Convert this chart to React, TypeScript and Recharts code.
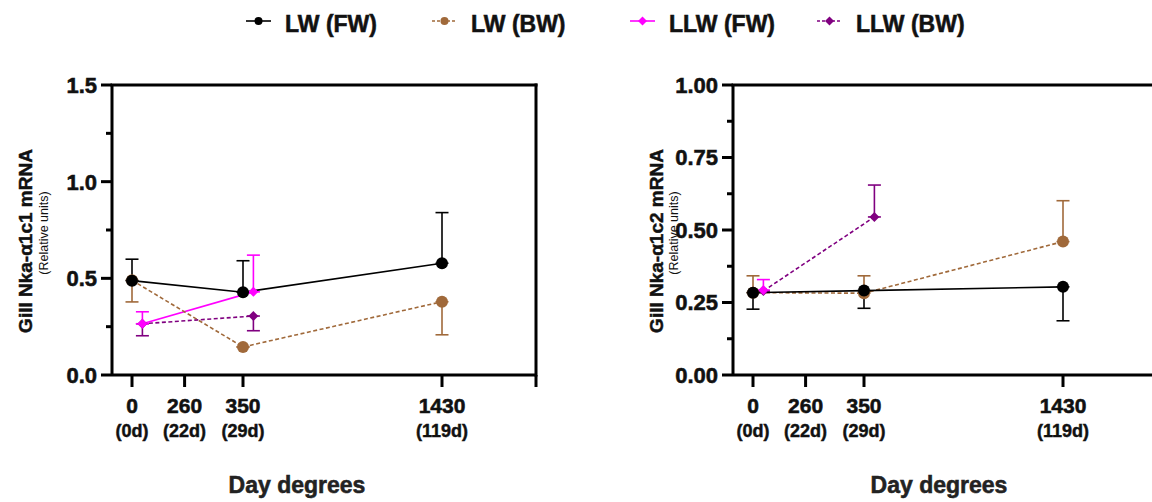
import React from "react";
import { LineChart, Line, XAxis, YAxis, ErrorBar, ReferenceLine, Label } from "recharts";

const FONT = "'Liberation Sans', Arial, Helvetica, sans-serif";
// GraphPad-style heavy bold text
const HEAVY = { fontWeight: "bold" as const, fontFamily: FONT, fill: "#111", stroke: "#111", strokeWidth: 0.55 };

// sampling points (day degrees) and fish age at each one
const DAY_DEGREES = [0, 260, 350, 1430];
const DAY_AGES = ["(0d)", "(22d)", "(29d)", "(119d)"];
// segmented x axis: slot of each sampling point along the axis
const AXIS_SLOTS = [1, 3.63, 6.55, 16.5];
const AXIS_END = 21.2;
const LLW_NUDGE = 0.52;

// Nka-α1c1
const C1_LW_FW_DAYS = [0, 350, 1430];
const C1_LW_FW_MEAN = [0.488, 0.428, 0.578];
const C1_LW_FW_LOW = [0, 0, 0];
const C1_LW_FW_HIGH = [0.111, 0.163, 0.262];

const C1_LW_BW_DAYS = [0, 350, 1430];
const C1_LW_BW_MEAN = [0.49, 0.145, 0.379];
const C1_LW_BW_LOW = [0.112, 0, 0.171];
const C1_LW_BW_HIGH = [0, 0, 0];

const C1_LLW_FW_DAYS = [0, 350];
const C1_LLW_FW_MEAN = [0.265, 0.43];
const C1_LLW_FW_LOW = [0, 0];
const C1_LLW_FW_HIGH = [0.062, 0.19];

const C1_LLW_BW_DAYS = [0, 350];
const C1_LLW_BW_MEAN = [0.265, 0.305];
const C1_LLW_BW_LOW = [0.062, 0.076];
const C1_LLW_BW_HIGH = [0, 0];

// Nka-α1c2
const C2_LW_FW_DAYS = [0, 350, 1430];
const C2_LW_FW_MEAN = [0.284, 0.291, 0.304];
const C2_LW_FW_LOW = [0.057, 0.061, 0.117];
const C2_LW_FW_HIGH = [0, 0, 0];

const C2_LW_BW_DAYS = [0, 350, 1430];
const C2_LW_BW_MEAN = [0.284, 0.282, 0.46];
const C2_LW_BW_LOW = [0, 0, 0];
const C2_LW_BW_HIGH = [0.058, 0.06, 0.141];

const C2_LLW_FW_DAYS = [0];
const C2_LLW_FW_MEAN = [0.293];
const C2_LLW_FW_LOW = [0];
const C2_LLW_FW_HIGH = [0.036];

const C2_LLW_BW_DAYS = [0, 350];
const C2_LLW_BW_MEAN = [0.29, 0.545];
const C2_LLW_BW_LOW = [0, 0];
const C2_LLW_BW_HIGH = [0, 0.11];

const C1_TICKS = [0, 0.25, 0.5, 0.75, 1, 1.25, 1.5];
const C2_TICKS = [0, 0.125, 0.25, 0.375, 0.5, 0.625, 0.75, 0.875, 1];

type Pt = { x: number; y: number; err: [number, number] };

function toPoints(days: number[], mean: number[], low: number[], high: number[], nudge: number): Pt[] {
  return days.map((d, i) => ({
    x: AXIS_SLOTS[DAY_DEGREES.indexOf(d)] + nudge,
    y: mean[i],
    err: [low[i], high[i]],
  }));
}

type Series = { key: string; name: string; color: string; dash?: string; marker: "circle" | "diamond"; nudge: number };

// drawn back to front
const SERIES: Series[] = [
  { key: "llwBw", name: "LLW (BW)", color: "#800080", dash: "4 2.5", marker: "diamond", nudge: LLW_NUDGE },
  { key: "llwFw", name: "LLW (FW)", color: "#FF00FF", marker: "diamond", nudge: LLW_NUDGE },
  { key: "lwBw", name: "LW (BW)", color: "#A0693A", dash: "4 2.5", marker: "circle", nudge: 0 },
  { key: "lwFw", name: "LW (FW)", color: "#000000", marker: "circle", nudge: 0 },
];

const C1_DATA: Record<string, Pt[]> = {
  lwFw: toPoints(C1_LW_FW_DAYS, C1_LW_FW_MEAN, C1_LW_FW_LOW, C1_LW_FW_HIGH, 0),
  lwBw: toPoints(C1_LW_BW_DAYS, C1_LW_BW_MEAN, C1_LW_BW_LOW, C1_LW_BW_HIGH, 0),
  llwFw: toPoints(C1_LLW_FW_DAYS, C1_LLW_FW_MEAN, C1_LLW_FW_LOW, C1_LLW_FW_HIGH, LLW_NUDGE),
  llwBw: toPoints(C1_LLW_BW_DAYS, C1_LLW_BW_MEAN, C1_LLW_BW_LOW, C1_LLW_BW_HIGH, LLW_NUDGE),
};

const C2_DATA: Record<string, Pt[]> = {
  lwFw: toPoints(C2_LW_FW_DAYS, C2_LW_FW_MEAN, C2_LW_FW_LOW, C2_LW_FW_HIGH, 0),
  lwBw: toPoints(C2_LW_BW_DAYS, C2_LW_BW_MEAN, C2_LW_BW_LOW, C2_LW_BW_HIGH, 0),
  llwFw: toPoints(C2_LLW_FW_DAYS, C2_LLW_FW_MEAN, C2_LLW_FW_LOW, C2_LLW_FW_HIGH, LLW_NUDGE),
  llwBw: toPoints(C2_LLW_BW_DAYS, C2_LLW_BW_MEAN, C2_LLW_BW_LOW, C2_LLW_BW_HIGH, LLW_NUDGE),
};

const diamondPath = (cx: number, cy: number, s: number) =>
  `M${cx} ${cy - s}L${cx + s} ${cy}L${cx} ${cy + s}L${cx - s} ${cy}Z`;

const renderDot = (s: Series) => (p: any) => {
  const { cx, cy, index } = p;
  if (s.marker === "circle") return <circle key={`dot-${index}`} cx={cx} cy={cy} r={6} fill={s.color} />;
  return <path key={`dot-${index}`} d={diamondPath(cx, cy, 5)} fill={s.color} />;
};

const XTick = (p: any) => {
  const { x, y, payload } = p;
  const i = AXIS_SLOTS.indexOf(payload.value);
  return (
    <g>
      <line x1={x} x2={x} y1={y} y2={y + 12} stroke="#000" strokeWidth={3} />
      {i >= 0 && (
        <>
          <text x={x} y={y + 38} textAnchor="middle" fontSize={21} {...HEAVY}>
            {DAY_DEGREES[i]}
          </text>
          <text x={x} y={y + 62} textAnchor="middle" fontSize={18} {...HEAVY} strokeWidth={0.45}>
            {DAY_AGES[i]}
          </text>
        </>
      )}
    </g>
  );
};

const makeYTick = (majorStep: number, digits: number) => (p: any) => {
  const { x, y, payload } = p;
  const v = payload.value as number;
  const major = Math.abs(v / majorStep - Math.round(v / majorStep)) < 1e-6;
  return (
    <g>
      <line x1={x - (major ? 11 : 6)} x2={x} y1={y} y2={y} stroke="#000" strokeWidth={3} />
      {major && (
        <text x={x - 15} y={y} dy="0.36em" textAnchor="end" fontSize={22} {...HEAVY}>
          {v.toFixed(digits)}
        </text>
      )}
    </g>
  );
};

type PanelProps = {
  left: number;
  yMax: number;
  yTicks: number[];
  majorStep: number;
  digits: number;
  yTitle: string;
  titleX: number;
  subX: number;
  xTitleX: number;
  data: Record<string, Pt[]>;
};

function Panel({ left, yMax, yTicks, majorStep, digits, yTitle, titleX, subX, xTitleX, data }: PanelProps) {
  return (
    <div style={{ position: "absolute", left, top: 0 }}>
      <LineChart width={560} height={502} margin={{ top: 85, right: 24, bottom: 67, left: 12 }}>
        <XAxis
          type="number"
          dataKey="x"
          domain={[0, AXIS_END]}
          ticks={[...AXIS_SLOTS, AXIS_END]}
          interval={0}
          height={60}
          tickSize={0}
          tickMargin={0}
          tickLine={false}
          axisLine={{ stroke: "#000", strokeWidth: 3 }}
          tick={<XTick />}
        >
          <Label
            content={() => (
              <text x={xTitleX} y={493} textAnchor="middle" fontSize={23} {...HEAVY} fill="#222" stroke="#222">
                Day degrees
              </text>
            )}
          />
        </XAxis>
        <YAxis
          type="number"
          domain={[0, yMax]}
          ticks={yTicks}
          interval={0}
          width={100}
          tickSize={0}
          tickMargin={0}
          tickLine={false}
          axisLine={{ stroke: "#000", strokeWidth: 3 }}
          tick={makeYTick(majorStep, digits)}
        >
          <Label
            content={() => (
              <g fontFamily={FONT} fill="#111">
                <text
                  x={titleX}
                  y={241}
                  transform={`rotate(-90, ${titleX}, 241)`}
                  textAnchor="middle"
                  dominantBaseline="central"
                  fontSize={19}
                  {...HEAVY}
                  strokeWidth={0.45}
                >
                  {yTitle}
                </text>
                <text
                  x={subX}
                  y={233}
                  transform={`rotate(-90, ${subX}, 233)`}
                  textAnchor="middle"
                  dominantBaseline="central"
                  fontSize={12.5}
                >
                  (Relative units)
                </text>
              </g>
            )}
          />
        </YAxis>
        <ReferenceLine y={yMax} stroke="#000" strokeWidth={3} strokeLinecap="square" />
        <ReferenceLine x={AXIS_END} stroke="#000" strokeWidth={3} strokeLinecap="square" />
        {SERIES.map((s) => (
          <Line
            key={s.key}
            data={data[s.key]}
            dataKey="y"
            stroke={s.color}
            strokeWidth={1.6}
            strokeDasharray={s.dash}
            dot={renderDot(s)}
            activeDot={false}
            isAnimationActive={false}
          >
            <ErrorBar dataKey="err" direction="y" width={6.5} stroke={s.color} strokeWidth={1.6} isAnimationActive={false} />
          </Line>
        ))}
      </LineChart>
    </div>
  );
}

// legend order and placement along the top row
const LEGEND_ORDER = ["lwFw", "lwBw", "llwFw", "llwBw"];
const LEGEND_X = [246, 432, 630, 817];

function TopLegend() {
  return (
    <svg width={1152} height={50} style={{ position: "absolute", left: 0, top: 0 }}>
      {LEGEND_ORDER.map((k, i) => {
        const s = SERIES.find((e) => e.key === k)!;
        const x0 = LEGEND_X[i];
        const cx = x0 + 12.5;
        const cy = 21;
        return (
          <g key={k}>
            <line x1={x0} x2={x0 + 25} y1={cy} y2={cy} stroke={s.color} strokeWidth={1.6} strokeDasharray={s.dash ? "3 2" : undefined} />
            {s.marker === "circle" ? (
              <circle cx={cx} cy={cy} r={4} fill={s.color} />
            ) : (
              <path d={diamondPath(cx, cy, 4.5)} fill={s.color} />
            )}
            <text x={x0 + 39} y={32} fontSize={23} {...HEAVY}>
              {s.name}
            </text>
          </g>
        );
      })}
    </svg>
  );
}

export default function App() {
  return (
    <div style={{ position: "absolute", left: 0, top: 0, width: 1152, height: 502, overflow: "hidden", background: "#fff" }}>
      <Panel
        left={0}
        yMax={1.5}
        yTicks={C1_TICKS}
        majorStep={0.5}
        digits={1}
        yTitle="Gill Nka-α1c1 mRNA"
        titleX={25.5}
        subX={44}
        xTitleX={297}
        data={C1_DATA}
      />
      <Panel
        left={621}
        yMax={1}
        yTicks={C2_TICKS}
        majorStep={0.25}
        digits={2}
        yTitle="Gill Nka-α1c2 mRNA"
        titleX={35}
        subX={53}
        xTitleX={318}
        data={C2_DATA}
      />
      <TopLegend />
    </div>
  );
}
